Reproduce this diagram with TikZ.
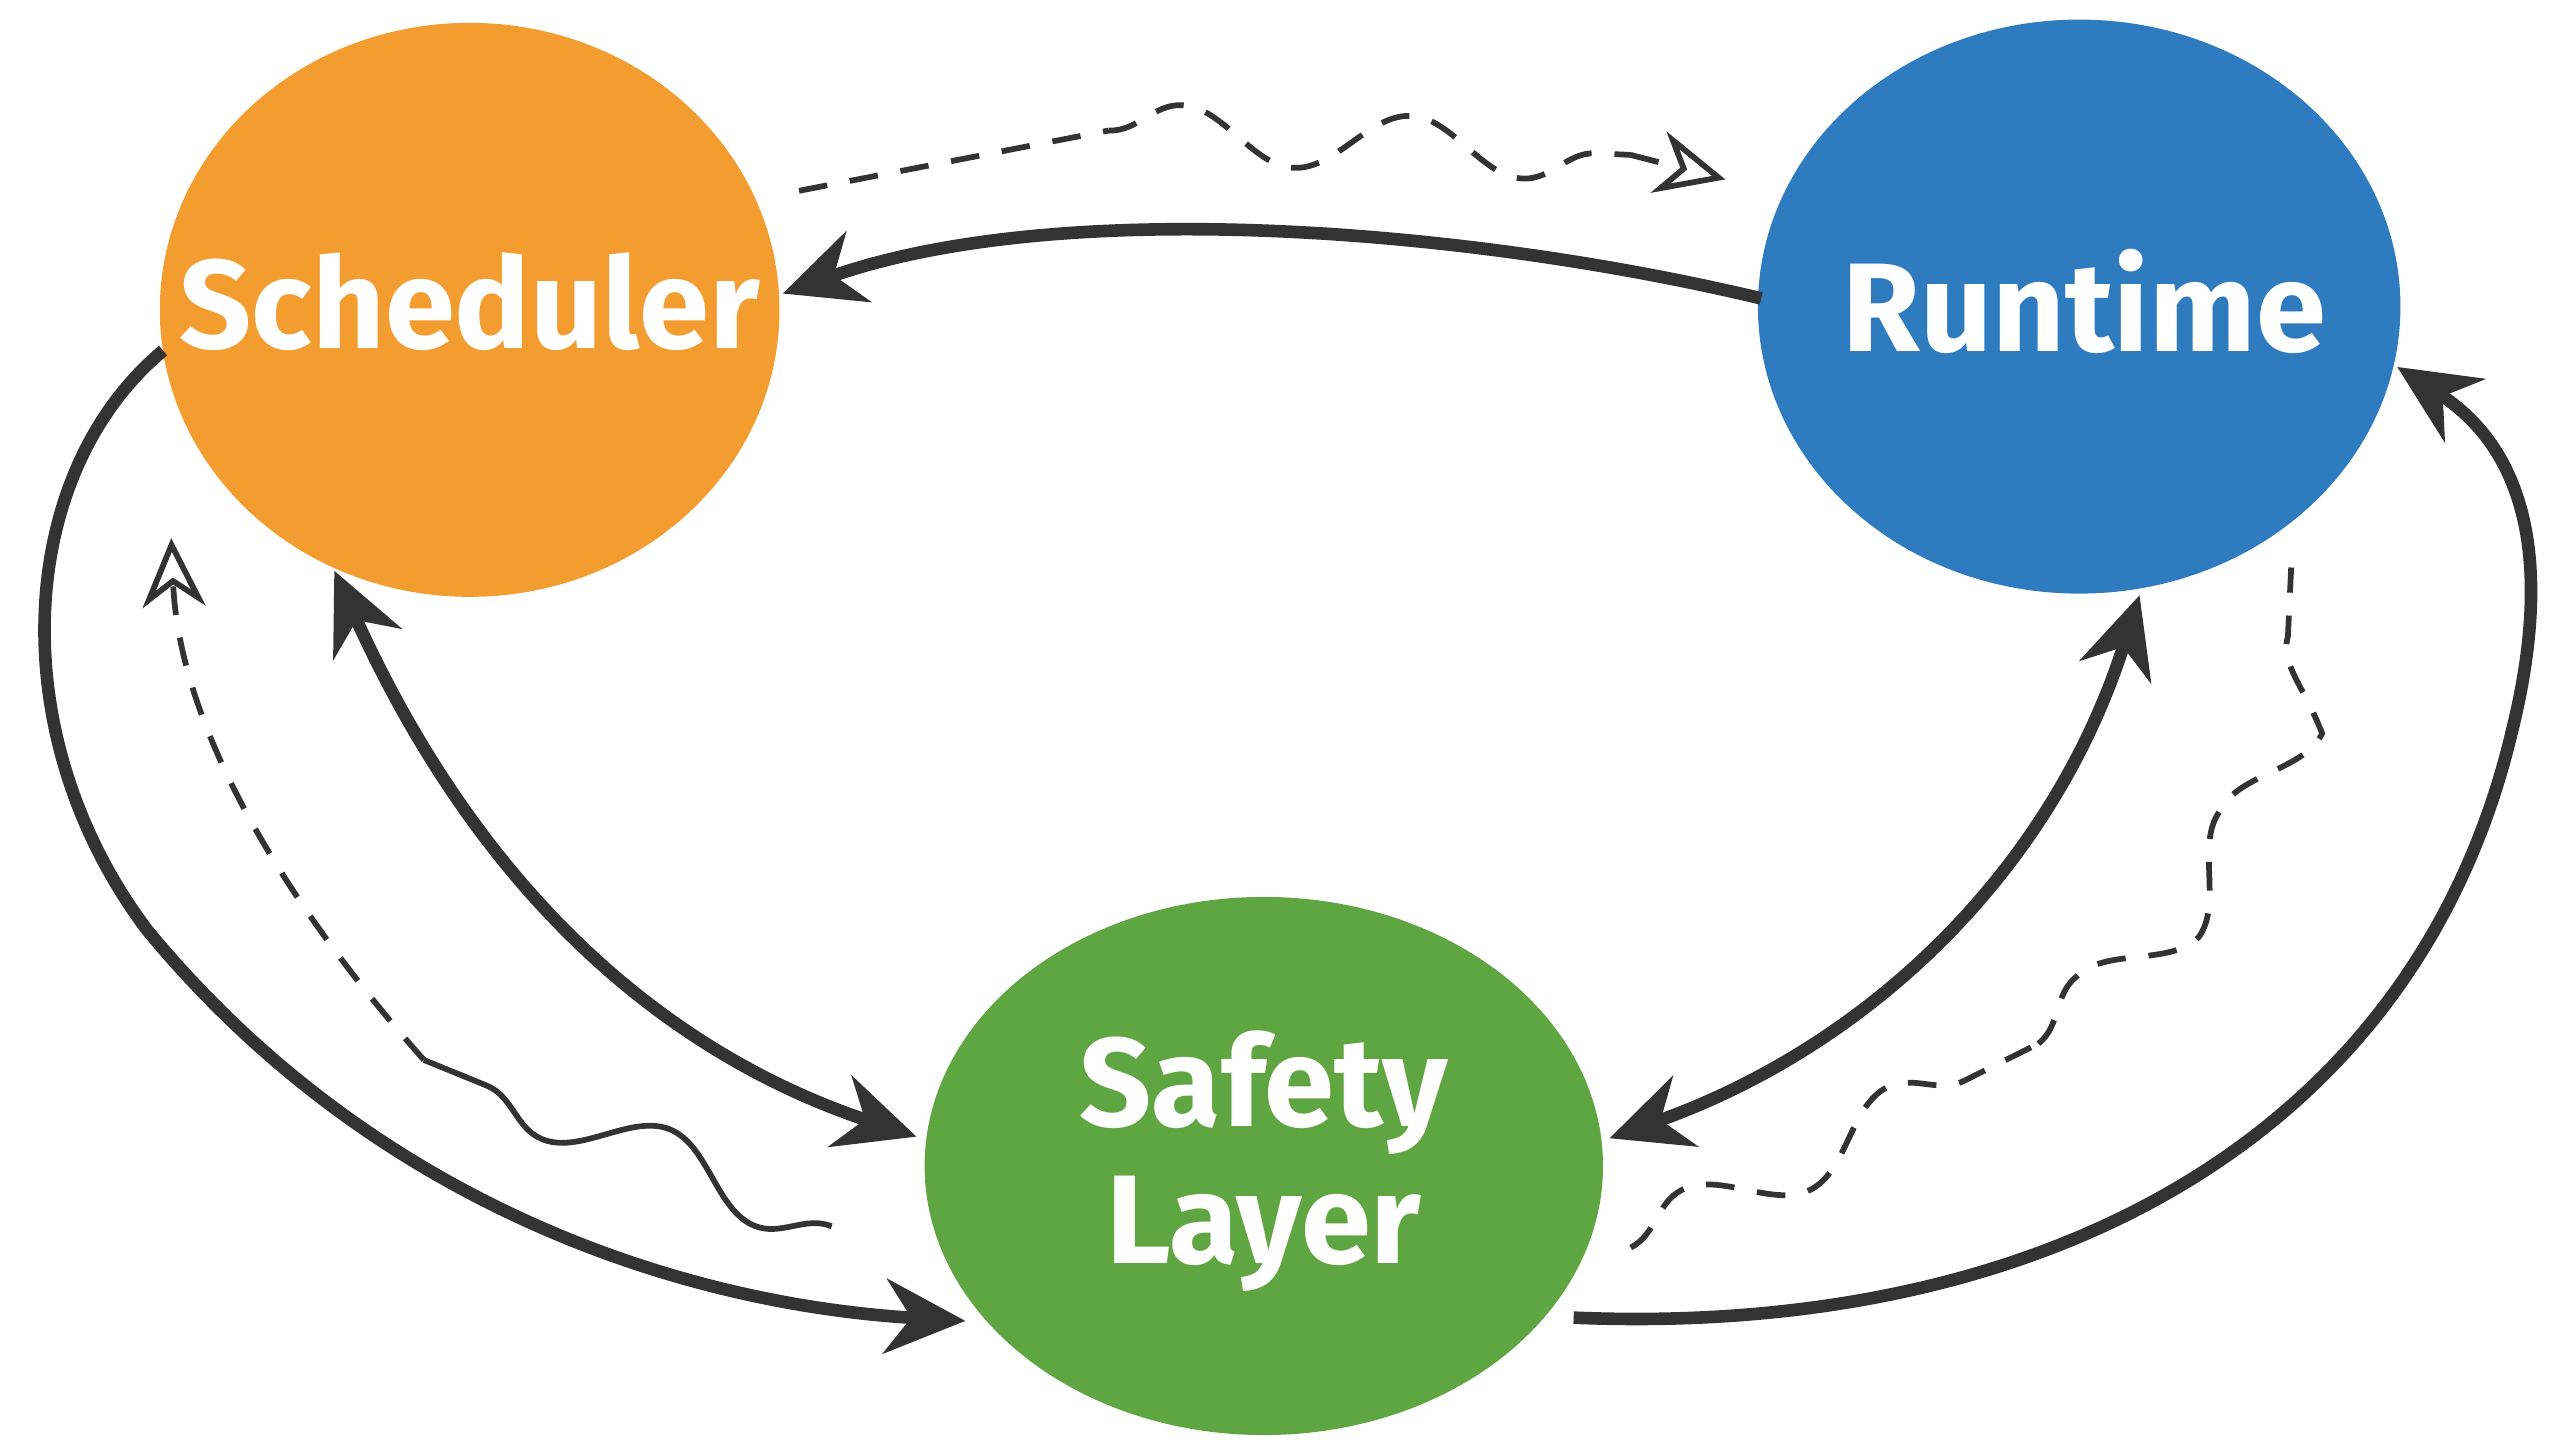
\documentclass[tikz,border=0pt]{standalone}
\usepackage{fontspec}
\setmainfont{Fira Sans}
\usetikzlibrary{shapes.geometric,arrows.meta,decorations.pathmorphing}
\definecolor{sched}{HTML}{F39C2F}
\definecolor{runt}{HTML}{2E7BBF}
\definecolor{safe}{HTML}{5FA642}
\definecolor{ink}{HTML}{333333}
\begin{document}
\begin{tikzpicture}[x=0.01cm,y=-0.01cm,
  blob/.style={ellipse,minimum width=#1,text=white,font=\bfseries\fontsize{21}{24}\selectfont,align=center,inner sep=0pt},
  main/.style={draw=ink,line width=2.2pt,-{Stealth[length=14pt,width=13pt]}},
  both/.style={main,{Stealth[length=14pt,width=13pt]}-{Stealth[length=14pt,width=13pt]}},
  dsh/.style={draw=ink,line width=1pt,dashed,dash pattern=on 5pt off 4pt},
  wav/.style={decorate,decoration={snake,amplitude=5pt,segment length=40pt}}]
\useasboundingbox (0,0) rectangle (1568,884);
\fill[sched] (288,190) ellipse [x radius=190,y radius=176];
\fill[runt] (1275,188) ellipse [x radius=197,y radius=176];
\fill[safe] (775,715) ellipse [x radius=208,y radius=165];
\node[text=white,font=\bfseries\fontsize{22}{26}\selectfont] (s) at (288,185) {Scheduler};
\node[text=white,font=\bfseries\fontsize{22}{26}\selectfont] (r) at (1278,185) {Runtime};
\node[text=white,font=\bfseries\fontsize{22}{26}\selectfont,align=center] (l) at (775,712) {Safety\\[-2pt]Layer};
\coordinate (sR) at (480,180); \coordinate (rL) at (1080,183);
\coordinate (sB) at (205,350); \coordinate (lTL) at (562,697);
\coordinate (rB) at (1312,365); \coordinate (lTR) at (987,698);
\coordinate (sL) at (100,215); \coordinate (lL) at (592,810);
\coordinate (lR) at (965,808); \coordinate (rR) at (1470,225);
% top arc
\draw[main] (rL) .. controls (900,140) and (650,120) .. (sR);
% side double arrows
\draw[both] (sB) .. controls (300,560) and (420,650) .. (lTL);
\draw[both] (lTR) .. controls (1150,640) and (1260,530) .. (rB);
% big loops
\draw[main] (sL) .. controls (10,290) and (0,450) .. (90,570) .. controls (230,740) and (420,800) .. (lL);
\draw[main] (lR) .. controls (1250,820) and (1480,700) .. (1540,450) .. controls (1570,330) and (1540,270) .. (rR);
% dashed top
\coordinate (d1) at (490,117); \coordinate (d4) at (1058,110);
\draw[dsh] (d1) -- (680,80);
\draw[dsh,wav] (680,80) -- (1000,95);
\draw[dsh,-{Stealth[length=12pt,width=11pt,open]}] (1000,95) -- (d4);
% dashed left
\coordinate (e1) at (510,752); \coordinate (e4) at (105,330);
\draw[ink,line width=1pt,wav] (e1) -- (260,650);
\draw[dsh,-{Stealth[length=12pt,width=11pt,open]}] (260,650) .. controls (180,560) and (110,450) .. (e4);
% dashed right
\coordinate (f1) at (1000,765); \coordinate (f4) at (1405,348);
\draw[dsh,wav] (f1) -- (1250,640);
\draw[dsh,wav] (1250,640) .. controls (1350,560) and (1400,450) .. (f4);
\end{tikzpicture}
\end{document}
